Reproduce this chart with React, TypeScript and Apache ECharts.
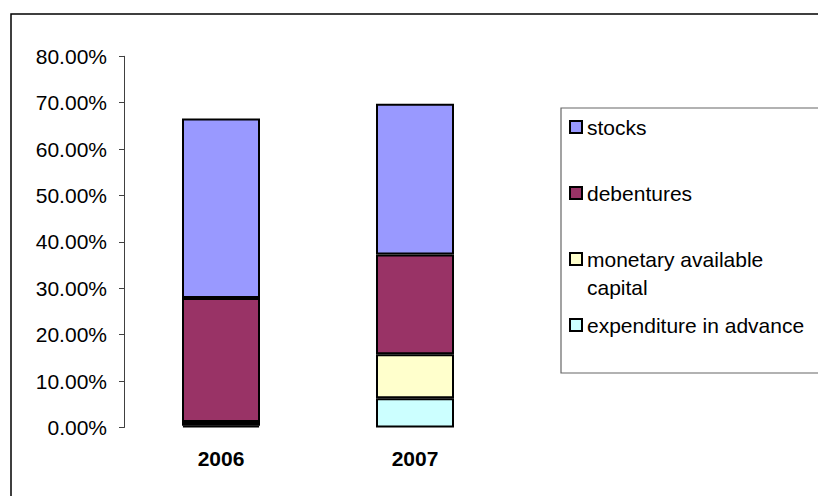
import React, { useEffect, useRef } from "react";
import * as echarts from "echarts";

const categories = ["2006", "2007"];
const stocks = [38.7, 32.5];
const debentures = [26.7, 21.5];
const monetary = [0.8, 9.5];
const expenditure = [0.4, 6.3];
const yTicks = { min: 0, max: 80, interval: 10 };

const FONT = 'Arial, "Liberation Sans", sans-serif';

export default function App() {
  const ref = useRef<HTMLDivElement>(null);
  useEffect(() => {
    if (!ref.current) return;
    const chart = echarts.init(ref.current, undefined, { renderer: "svg" });
    const barStyle = (color: string) => ({
      color,
      borderColor: "#000",
      borderWidth: 2,
    });
    const mkLegend = (name: string, top: number) => ({
      show: true,
      data: [name],
      left: 569,
      top,
      padding: 0,
      orient: "vertical",
      itemWidth: 12,
      itemHeight: 12,
      icon: "rect",
      selectedMode: false,
      itemStyle: { borderColor: "#000", borderWidth: 2 },
      textStyle: {
        fontFamily: FONT,
        fontSize: 21,
        color: "#000",
        lineHeight: 28,
      },
    });
    const legendLabel = (n: string) =>
      n === "monetary available capital" ? "\nmonetary available\ncapital" : n;

    const option: any = {
      animation: false,
      backgroundColor: "#fff",
      textStyle: { fontFamily: FONT },
      graphic: [
        {
          type: "rect",
          shape: { x: 11, y: 14, width: 900, height: 600 },
          style: { fill: "none", stroke: "#000", lineWidth: 1.5 },
          silent: true,
        },
        {
          type: "rect",
          shape: { x: 561, y: 108, width: 400, height: 265 },
          style: { fill: "none", stroke: "#666", lineWidth: 1.2 },
          silent: true,
        },
      ],
      legend: [
        mkLegend("stocks", 113),
        mkLegend("debentures", 179),
        { ...mkLegend("monetary available capital", 217), formatter: legendLabel },
        mkLegend("expenditure in advance", 311),
      ],
      grid: { left: 124, right: 306, top: 56.3, bottom: 68.5, containLabel: false },
      xAxis: {
        type: "category",
        data: categories,
        axisLine: { show: false },
        axisTick: { show: false },
        axisLabel: {
          fontFamily: FONT,
          fontSize: 21,
          fontWeight: "bold",
          color: "#000",
          margin: 19,
          lineHeight: 24,
        },
      },
      yAxis: {
        type: "value",
        min: yTicks.min,
        max: yTicks.max,
        interval: yTicks.interval,
        splitLine: { show: false },
        axisLine: { show: true, lineStyle: { color: "#404040", width: 1 } },
        axisTick: { show: true, length: 5, lineStyle: { color: "#404040" } },
        axisLabel: {
          fontFamily: FONT,
          fontSize: 21,
          color: "#000",
          margin: 17,
          formatter: (v: number) => v.toFixed(2) + "%",
        },
      },
      series: [
        { name: "expenditure in advance", type: "bar", stack: "s", data: expenditure, barWidth: 78, itemStyle: barStyle("#CCFFFF") },
        { name: "monetary available capital", type: "bar", stack: "s", data: monetary, barWidth: 78, itemStyle: barStyle("#FFFFCC") },
        { name: "debentures", type: "bar", stack: "s", data: debentures, barWidth: 78, itemStyle: barStyle("#993366") },
        { name: "stocks", type: "bar", stack: "s", data: stocks, barWidth: 78, itemStyle: barStyle("#9999FF") },
      ],
    };
    chart.setOption(option);
    return () => chart.dispose();
  }, []);
  return (
    <div
      ref={ref}
      style={{ position: "fixed", left: 0, top: 0, width: 818, height: 496 }}
    />
  );
}
